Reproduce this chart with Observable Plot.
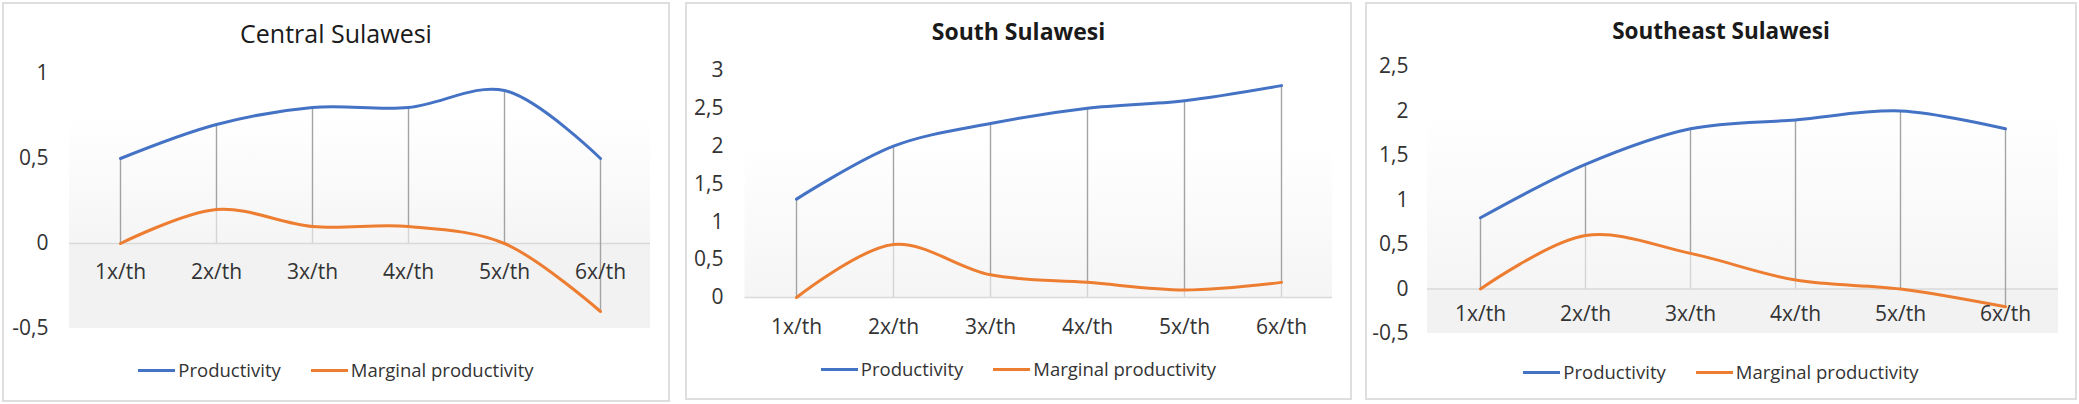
<!DOCTYPE html>
<html><head><meta charset="utf-8">
<script src="https://cdn.jsdelivr.net/npm/d3@7"></script>
<script src="https://cdn.jsdelivr.net/npm/@observablehq/plot@0.6"></script>
<style>
body{margin:0;background:#fff;font-family:"Open Sans",sans-serif;}
#page{position:relative;width:2079px;height:404px;overflow:hidden;background:#fff;}
.panel{position:absolute;box-sizing:border-box;border:2px solid #dedede;background:#fff;}
.title{position:absolute;text-align:center;color:#1a1a1a;white-space:nowrap;line-height:32px;height:32px;}
.chart{position:absolute;top:0;}
.legend{position:absolute;display:flex;justify-content:center;align-items:center;gap:30px;font-size:18.5px;color:#333;height:26px;line-height:26px;}
.item{display:flex;align-items:center;gap:3px;}
.swatch{width:37px;height:3px;}
</style></head><body>
<svg width="0" height="0" style="position:absolute"><defs>
<linearGradient id="bgGrad" x1="0" y1="0" x2="0" y2="1"><stop offset="0" stop-color="#ffffff"/><stop offset="1" stop-color="#f5f5f5"/></linearGradient>
</defs></svg>
<div id="page"></div>
<script>
const categories = ["1x/th","2x/th","3x/th","4x/th","5x/th","6x/th"];
const seriesNames = ["Productivity","Marginal productivity"];
const seriesColors = ["#4472C4","#ED7D31"];
const titles = ["Central Sulawesi","South Sulawesi","Southeast Sulawesi"];

const centralProductivity = [0.5,0.7,0.8,0.8,0.9,0.5];
const centralMarginal = [0,0.2,0.1,0.1,0,-0.4];
const southProductivity = [1.3,2.0,2.3,2.5,2.6,2.8];
const southMarginal = [0,0.7,0.3,0.2,0.1,0.2];
const southeastProductivity = [0.8,1.4,1.8,1.9,2.0,1.8];
const southeastMarginal = [0,0.6,0.4,0.1,0,-0.2];

const centralTicks = [-0.5,0,0.5,1];
const southTicks = [0,0.5,1,1.5,2,2.5,3];
const southeastTicks = [-0.5,0,0.5,1,1.5,2,2.5];

const panels = [
  {title: titles[0], prod: centralProductivity, marg: centralMarginal, ticks: centralTicks, domain:[-0.5,1], bgTop:0.75,
   left:2, width:668, pTop:2, pHeight:400, h:400, mt:73, mb:72, ml:67, mr:20, tp:21, dy:29,
   titleSize:25, titleWeight:400, titleY:33, legendY:370},
  {title: titles[1], prod: southProductivity, marg: southMarginal, ticks: southTicks, domain:[0,3], bgTop:2.05,
   left:685, width:667, pTop:2, pHeight:398, h:400, mt:70, mb:103, ml:59.5, mr:20, tp:21.5, dy:30,
   titleSize:23, titleWeight:700, titleY:31, legendY:369},
  {title: titles[2], prod: southeastProductivity, marg: southeastMarginal, ticks: southeastTicks, domain:[-0.5,2.5], bgTop:1.97,
   left:1365, width:712, pTop:2, pHeight:398, h:400, mt:66, mb:67, ml:62, mr:19, tp:19, dy:25,
   titleSize:22.5, titleWeight:700, titleY:31, legendY:372}
];

const page = document.getElementById("page");
const fmt = d => String(d).replace(".", ",");

for (const cfg of panels) {
  const box = document.createElement("div");
  box.className = "panel";
  Object.assign(box.style, {left: cfg.left+"px", top: cfg.pTop+"px", width: cfg.width+"px", height: cfg.pHeight+"px"});
  page.appendChild(box);

  const rows = categories.map((c,i) => ({cat:c, p:cfg.prod[i], m:cfg.marg[i]}));
  const long = [
    ...rows.map(r => ({cat:r.cat, v:r.p, s:seriesNames[0]})),
    ...rows.map(r => ({cat:r.cat, v:r.m, s:seriesNames[1]}))
  ];
  const marks = [
    Plot.rectY([{a:cfg.bgTop, b:0}], {y1:"a", y2:"b", fill:"url(#bgGrad)"}),
  ];
  if (cfg.domain[0] < 0) marks.push(Plot.rectY([{a:0, b:cfg.domain[0]}], {y1:"a", y2:"b", fill:"#f2f2f2"}));
  marks.push(
    Plot.ruleY([0], {stroke:"#d9d9d9", strokeWidth:1.5}),
    Plot.ruleX(long, {x:"cat", y1: d => 0, y2:"v", stroke:"#d4d4d4", strokeWidth:1.2}),
    Plot.ruleX(rows, {x:"cat", y1: d => Math.min(d.p,d.m), y2: d => Math.max(d.p,d.m), stroke:"#a3a3a3", strokeWidth:1.3}),
    Plot.line(long, {x:"cat", y:"v", z:"s", stroke:"s", strokeWidth:3, curve:"catmull-rom"}),
    Plot.axisY({ticks: cfg.ticks, tickFormat: fmt, tickSize:0, tickPadding: cfg.tp, label:null, fill:"#333"}),
    Plot.text(categories, {x: d => d, y: d => 0, dy: cfg.dy, fill:"#333"})
  );
  const chart = Plot.plot({
    width: cfg.width, height: cfg.h,
    marginTop: cfg.mt, marginBottom: cfg.mb, marginLeft: cfg.ml, marginRight: cfg.mr,
    style: {fontFamily:'"Open Sans", sans-serif', fontSize:"21px", color:"#333", background:"transparent", overflow:"visible"},
    x: {type:"point", domain: categories, padding:0.5, axis:null},
    y: {domain: cfg.domain, label:null},
    color: {domain: seriesNames, range: seriesColors},
    marks
  });
  chart.classList.add("chart");
  chart.style.left = cfg.left + "px";
  page.appendChild(chart);

  const t = document.createElement("div");
  t.className = "title";
  t.textContent = cfg.title;
  Object.assign(t.style, {left: cfg.left+"px", width: cfg.width+"px", top: (cfg.titleY-16)+"px", fontSize: cfg.titleSize+"px", fontWeight: cfg.titleWeight});
  page.appendChild(t);

  const lg = document.createElement("div");
  lg.className = "legend";
  Object.assign(lg.style, {left: cfg.left+"px", width: cfg.width+"px", top: (cfg.legendY-13)+"px"});
  seriesNames.forEach((name,i) => {
    const it = document.createElement("div");
    it.className = "item";
    const sw = document.createElement("div");
    sw.className = "swatch";
    sw.style.background = seriesColors[i];
    const tx = document.createElement("span");
    tx.textContent = name;
    it.appendChild(sw); it.appendChild(tx);
    lg.appendChild(it);
  });
  page.appendChild(lg);
}
</script>
</body></html>
